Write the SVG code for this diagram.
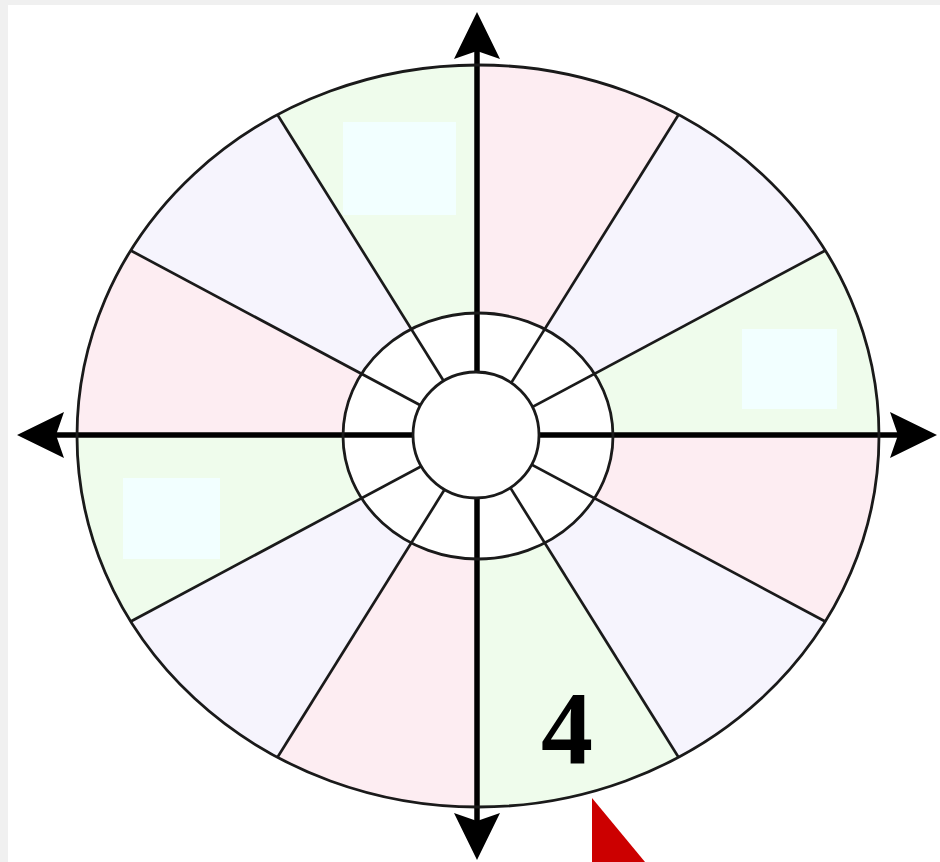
<svg xmlns="http://www.w3.org/2000/svg" width="940" height="862" viewBox="0 0 940 862">
  <style>
    .pink { fill: #fdedf2; }
    .lav { fill: #f6f4fd; }
    .green { fill: #effcec; }
    .label-box { fill: #f2ffff; }
    .spoke { stroke: #1a1a1a; stroke-width: 2.7; fill: none; }
    .ring { stroke: #1a1a1a; stroke-width: 2.8; }
    .axis { stroke: #000; stroke-width: 5.5; fill: none; }
    .num { font-family: "Liberation Serif", "Times New Roman", serif; font-weight: bold; font-size: 104px; fill: #000; }
  </style>
  <defs>
    <marker id="arrow" markerUnits="userSpaceOnUse" markerWidth="47" markerHeight="46" refX="22" refY="23" orient="auto-start-reverse" viewBox="0 0 47 46">
      <path d="M0,0 L47,23 L0,46 L8,23 Z" fill="#000"/>
    </marker>
  </defs>

  <rect x="0" y="0" width="940" height="862" fill="#f0f0f0"/>
  <rect x="8" y="5" width="932" height="857" fill="#ffffff"/>

  <g id="sectors">
    <path class="pink" d="M478,436 L478,65 A401,371 0 0 1 678.5,114.7 Z"/>
    <path class="lav" d="M478,436 L678.5,114.7 A401,371 0 0 1 825.3,250.5 Z"/>
    <path class="green" d="M478,436 L825.3,250.5 A401,371 0 0 1 879,436 Z"/>
    <path class="pink" d="M478,436 L879,436 A401,371 0 0 1 825.3,621.5 Z"/>
    <path class="lav" d="M478,436 L825.3,621.5 A401,371 0 0 1 678.5,757.3 Z"/>
    <path class="green" d="M478,436 L678.5,757.3 A401,371 0 0 1 478,807 Z"/>
    <path class="pink" d="M478,436 L478,807 A401,371 0 0 1 277.5,757.3 Z"/>
    <path class="lav" d="M478,436 L277.5,757.3 A401,371 0 0 1 130.7,621.5 Z"/>
    <path class="green" d="M478,436 L130.7,621.5 A401,371 0 0 1 77,436 Z"/>
    <path class="pink" d="M478,436 L77,436 A401,371 0 0 1 130.7,250.5 Z"/>
    <path class="lav" d="M478,436 L130.7,250.5 A401,371 0 0 1 277.5,114.7 Z"/>
    <path class="green" d="M478,436 L277.5,114.7 A401,371 0 0 1 478,65 Z"/>
  </g>

  <g id="label-boxes">
    <rect class="label-box" x="343" y="122" width="113" height="93"/>
    <rect class="label-box" x="742" y="329" width="95" height="80"/>
    <rect class="label-box" x="123" y="478" width="97" height="81"/>
  </g>

  <ellipse id="middle-ring-fill" cx="478" cy="436" rx="135" ry="123" fill="#ffffff"/>

  <g id="connectors">
    <g id="spokes" class="spoke">
      <line x1="478" y1="436" x2="678.5" y2="114.7"/>
      <line x1="478" y1="436" x2="825.3" y2="250.5"/>
      <line x1="478" y1="436" x2="825.3" y2="621.5"/>
      <line x1="478" y1="436" x2="678.5" y2="757.3"/>
      <line x1="478" y1="436" x2="277.5" y2="757.3"/>
      <line x1="478" y1="436" x2="130.7" y2="621.5"/>
      <line x1="478" y1="436" x2="130.7" y2="250.5"/>
      <line x1="478" y1="436" x2="277.5" y2="114.7"/>
    </g>
    <g id="axes" class="axis">
      <line x1="477" y1="37" x2="477" y2="835" marker-start="url(#arrow)" marker-end="url(#arrow)"/>
      <line x1="42" y1="435" x2="912" y2="435" marker-start="url(#arrow)" marker-end="url(#arrow)"/>
    </g>
  </g>

  <g id="rings">
    <ellipse id="middle-ring" class="ring" cx="478" cy="436" rx="135" ry="123" fill="none"/>
    <ellipse id="outer-ring" class="ring" cx="478" cy="436" rx="401" ry="371" fill="none"/>
    <circle id="inner-circle" class="ring" cx="476" cy="435" r="63" fill="#ffffff"/>
  </g>

  <g id="label-4">
    <text class="num" x="567" y="763" text-anchor="middle">4</text>
  </g>

  <polygon id="pointer" points="592,798 592,862 645,862" fill="#cc0000"/>
</svg>
